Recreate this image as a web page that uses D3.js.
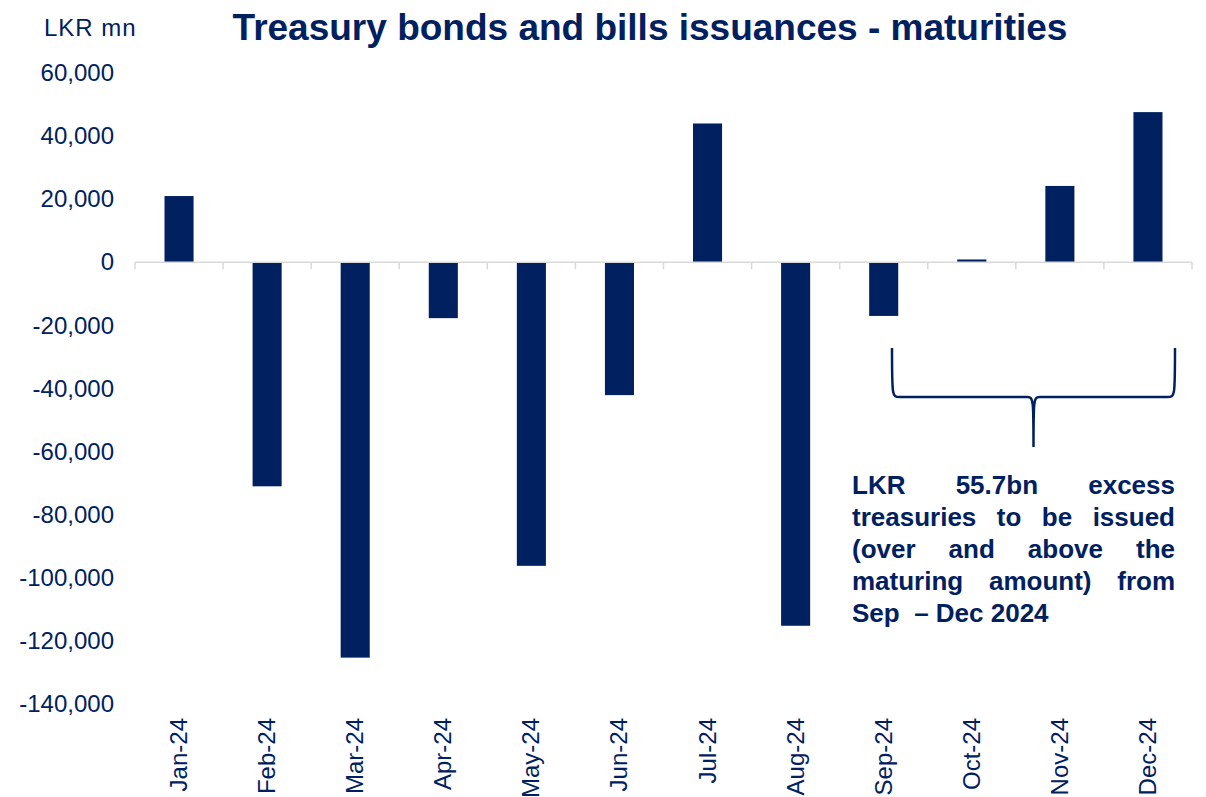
<!DOCTYPE html>
<html>
<head>
<meta charset="utf-8">
<script src="https://cdn.jsdelivr.net/npm/d3@7"></script>
<style>
  body { margin: 0; background: #fff; }
  svg { display: block; font-family: "Liberation Sans", Arial, sans-serif; }
</style>
</head>
<body>
<svg id="chart" width="1206" height="797"></svg>
<script>
const months = ["Jan-24", "Feb-24", "Mar-24", "Apr-24", "May-24", "Jun-24",
                "Jul-24", "Aug-24", "Sep-24", "Oct-24", "Nov-24", "Dec-24"];
const netIssuance = [21000, -71000, -125300, -17700, -96200, -42100,
                     44000, -115200, -17000, 900, 24200, 47600];
const yTicks = [60000, 40000, 20000, 0, -20000, -40000, -60000, -80000,
                -100000, -120000, -140000];
const noteLines = ["LKR 55.7bn excess", "treasuries to be issued",
                   "(over and above the", "maturing amount) from", "Sep\u00a0\u00a0\u2013 Dec 2024"];

const navy = "#002060";
const svg = d3.select("#chart");

const x = d3.scaleBand().domain(months).range([135, 1192]).paddingInner(0.67).paddingOuter(0.335);
const xTicks = d3.scaleBand().domain(months).range([135, 1192]);
const y = d3.scaleLinear().domain([-140000, 60000]).range([704, 73]);

// title + unit
svg.append("text")
    .attr("x", 650).attr("y", 40)
    .attr("text-anchor", "middle")
    .attr("font-size", 37).attr("font-weight", "bold")
    .attr("fill", navy)
    .text("Treasury bonds and bills issuances - maturities");

svg.append("text")
    .attr("x", 44).attr("y", 36)
    .attr("font-size", 24)
    .attr("letter-spacing", 1)
    .attr("fill", navy)
    .text("LKR mn");

// y axis labels (no axis line)
const fmt = d3.format(",");
const yAxis = svg.append("g")
    .attr("transform", "translate(122,0)")
    .call(d3.axisLeft(y).tickValues(yTicks).tickSize(0).tickPadding(8)
        .tickFormat(d => fmt(d).replace("\u2212", "-")));
yAxis.select(".domain").remove();
yAxis.selectAll("text")
    .attr("font-size", 24)
    .attr("font-family", "Liberation Sans, Arial, sans-serif")
    .attr("fill", navy);

// bars
svg.append("g")
    .selectAll("rect")
    .data(netIssuance)
    .join("rect")
    .attr("x", (d, i) => x(months[i]))
    .attr("width", x.bandwidth())
    .attr("y", d => Math.min(y(d), y(0)))
    .attr("height", d => Math.abs(y(d) - y(0)))
    .attr("fill", navy);

// zero line with category ticks
const zero = svg.append("g").attr("stroke", "#d9d9d9").attr("stroke-width", 1.5);
zero.append("line")
    .attr("x1", 135).attr("x2", 1192)
    .attr("y1", y(0)).attr("y2", y(0));
zero.selectAll(".tk")
    .data(months.concat(["end"]))
    .join("line")
    .attr("x1", (d, i) => 135 + i * xTicks.step())
    .attr("x2", (d, i) => 135 + i * xTicks.step())
    .attr("y1", y(0)).attr("y2", y(0) + 7);

// x labels rotated
svg.append("g")
    .selectAll("text")
    .data(months)
    .join("text")
    .attr("transform", d => `translate(${x(d) + x.bandwidth() / 2 + 8},718) rotate(-90)`)
    .attr("text-anchor", "end")
    .attr("font-size", 24)
    .attr("fill", navy)
    .text(d => d);

// brace over Sep-Dec
const bx0 = 892, bx1 = 1175, btop = 348, bmid = 397, btip = 447;
const cx = (bx0 + bx1) / 2;
svg.append("path")
    .attr("d", `M${bx0},${btop} C${bx0},${bmid} ${bx0},${bmid} ${bx0 + 8},${bmid}
                L${cx - 6},${bmid} C${cx},${bmid} ${cx},${bmid + 4} ${cx},${btip}
                C${cx},${bmid + 4} ${cx},${bmid} ${cx + 6},${bmid}
                L${bx1 - 8},${bmid} C${bx1},${bmid} ${bx1},${bmid} ${bx1},${btop}`)
    .attr("fill", "none")
    .attr("stroke", navy)
    .attr("stroke-width", 2.5);

// justified note text (word spacing spread to fill the width)
const noteLeft = 852, noteRight = 1175;
const note = svg.append("g").attr("font-size", 26).attr("font-weight", "bold").attr("fill", navy);
noteLines.forEach((line, i) => {
    const yy = 494 + i * 32;
    const words = line.split(" ");
    if (i === noteLines.length - 1 || words.length < 2) {
        note.append("text").attr("x", noteLeft).attr("y", yy).text(line);
        return;
    }
    const nodes = words.map(w => note.append("text").attr("y", yy).text(w));
    const widths = nodes.map(n => n.node().getComputedTextLength());
    const gap = (noteRight - noteLeft - d3.sum(widths)) / (words.length - 1);
    let cur = noteLeft;
    nodes.forEach((n, j) => {
        n.attr("x", cur);
        cur += widths[j] + gap;
    });
});
</script>
</body>
</html>
